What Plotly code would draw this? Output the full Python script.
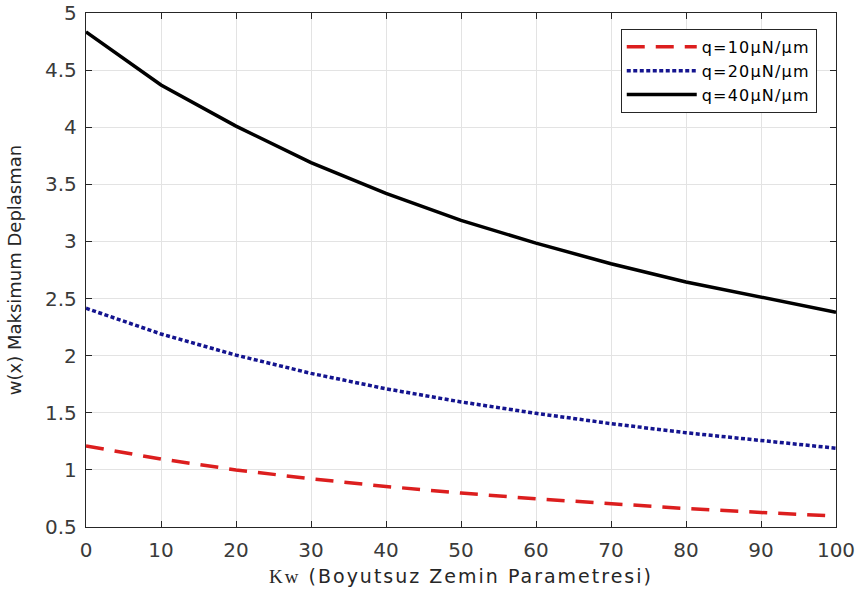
import plotly.graph_objects as go

kw = [0, 10, 20, 30, 40, 50, 60, 70, 80, 90, 100]
w_q10 = [1.21, 1.095, 1.00, 0.922, 0.855, 0.797, 0.747, 0.702, 0.662, 0.627, 0.595]
w_q20 = [2.415, 2.19, 2.005, 1.845, 1.71, 1.595, 1.495, 1.405, 1.325, 1.255, 1.19]
w_q40 = [4.835, 4.37, 4.01, 3.69, 3.42, 3.185, 2.985, 2.805, 2.645, 2.51, 2.38]
names = ["q=10µN/µm", "q=20µN/µm", "q=40µN/µm"]

x_ticks = [0, 10, 20, 30, 40, 50, 60, 70, 80, 90, 100]
y_ticks = [0.5, 1, 1.5, 2, 2.5, 3, 3.5, 4, 4.5, 5]
y_tick_text = ["0.5", "1", "1.5", "2", "2.5", "3", "3.5", "4", "4.5", "5"]

FONT = "DejaVu Sans, Liberation Sans, Arial, sans-serif"


def legend_label(s):
    return '<span style="letter-spacing:1.2px">' + s + '</span>'


fig = go.Figure()
fig.add_trace(go.Scatter(x=kw, y=w_q10, mode="lines", name=legend_label(names[0]),
                         line=dict(color="#dc1e1e", width=3.5, dash="18px,11px")))
fig.add_trace(go.Scatter(x=kw, y=w_q20, mode="lines", name=legend_label(names[1]),
                         line=dict(color="#14148f", width=3.5, dash="4px,2.5px")))
fig.add_trace(go.Scatter(x=kw, y=w_q40, mode="lines", name=legend_label(names[2]),
                         line=dict(color="#000000", width=3.5)))

axis_common = dict(
    showline=True, linecolor="#262626", linewidth=1.3, mirror="ticks",
    ticks="inside", ticklen=6, tickcolor="#262626", tickwidth=1,
    showgrid=True, gridcolor="#e3e3e3", gridwidth=1, zeroline=False,
    automargin=False,
    tickfont=dict(family=FONT, size=20, color="#3a3a3a"),
)

fig.update_layout(
    width=858, height=594,
    margin=dict(l=86, r=22, t=13, b=67),
    paper_bgcolor="white", plot_bgcolor="white",
    xaxis=dict(range=[0, 100], tickvals=x_ticks, ticklabelstandoff=5, **axis_common,
               title=dict(text='<span style="letter-spacing:2px"><span style="font-family:Liberation Serif, Times New Roman, serif">Kw</span> (Boyutsuz Zemin Parametresi)</span>',
                          font=dict(family=FONT, size=19, color="#262626"),
                          standoff=8)),
    yaxis=dict(range=[0.5, 5], tickvals=y_ticks, ticktext=y_tick_text, ticklabelstandoff=4,
               **axis_common,
               title=dict(text="w(x) Maksimum Deplasman",
                          font=dict(family=FONT, size=18, color="#262626"),
                          standoff=18)),
    legend=dict(x=0.713, y=0.969, xanchor="left", yanchor="top",
                bordercolor="#262626", borderwidth=1, bgcolor="white",
                font=dict(family=FONT, size=16, color="#000000"),
                itemwidth=70, tracegroupgap=0),
    showlegend=True,
)

# remove the browser's default 8px body margin so the figure sits at the page origin
fig.write_html("out.html", config={"displayModeBar": False},
               post_script="document.body.style.margin='0';")
